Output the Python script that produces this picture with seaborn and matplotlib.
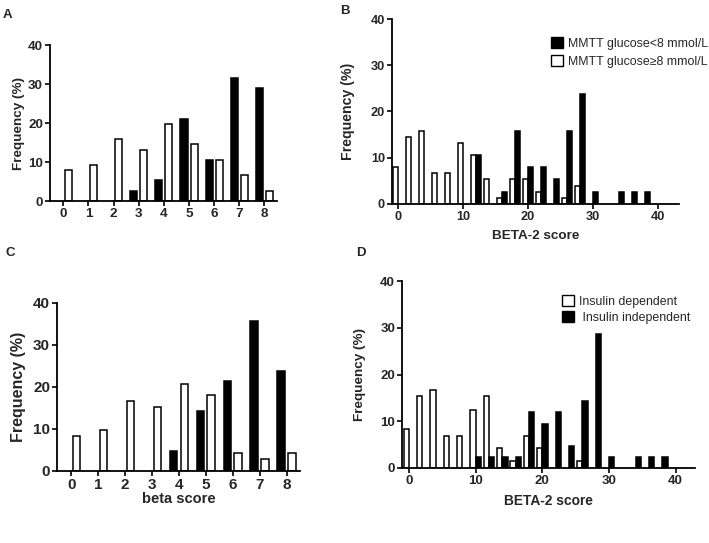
import matplotlib
matplotlib.use("Agg")
import matplotlib.pyplot as plt
from matplotlib.patches import Patch
import seaborn as sns
import pandas as pd

# ---------------- data ----------------
beta_scores = [0, 1, 2, 3, 4, 5, 6, 7, 8]
A_black = [0, 0, 0, 2.6, 5.3, 21.1, 10.5, 31.6, 28.9]
A_white = [7.9, 9.2, 15.8, 13.2, 19.7, 14.5, 10.5, 6.6, 2.6]
C_black = [0, 0, 0, 0, 4.8, 14.3, 21.4, 35.7, 23.8]
C_white = [8.3, 9.7, 16.7, 15.3, 20.8, 18.1, 4.2, 2.8, 4.2]

beta2_scores = [0, 2, 4, 6, 8, 10, 12, 14, 16, 18, 20, 22, 24, 26, 28, 30, 32, 34, 36, 38]
B_black = [0, 0, 0, 0, 0, 0, 10.5, 0, 2.6, 15.8, 7.9, 7.9, 5.3, 15.8, 23.7, 2.6, 0, 2.6, 2.6, 2.6]
B_white = [7.9, 14.5, 15.8, 6.6, 6.6, 13.2, 10.5, 5.3, 1.3, 5.3, 5.3, 2.6, 0, 1.3, 3.9, 0, 0, 0, 0, 0]
D_white = [8.3, 15.3, 16.7, 6.9, 6.9, 12.5, 15.3, 4.2, 1.4, 6.9, 4.2, 0, 0, 1.4, 0, 0, 0, 0, 0, 0]
D_black = [0, 0, 0, 0, 0, 2.4, 2.4, 2.4, 2.4, 11.9, 9.5, 11.9, 4.8, 14.3, 28.6, 2.4, 0, 2.4, 2.4, 2.4]

B_labels = ["MMTT glucose<8 mmol/L", "MMTT glucose\u22658 mmol/L"]
D_labels = ["Insulin dependent", " Insulin independent"]
yticks = [0, 10, 20, 30, 40]
beta2_ticks = [0, 10, 20, 30, 40]


def long_df(scores, black, white, black_name, white_name):
    rows = []
    for s, b, w in zip(scores, black, white):
        if b > 0:
            rows.append({"score": s, "freq": b, "group": black_name})
        if w > 0:
            rows.append({"score": s, "freq": w, "group": white_name})
    return pd.DataFrame(rows)


sns.set_style("ticks")
plt.rcParams["font.family"] = ["Liberation Sans", "DejaVu Sans"]

W, H = 709, 543
fig = plt.figure(figsize=(W / 100, H / 100), dpi=100)


def add_ax(l, r, t, b):
    return fig.add_axes([l / W, 1 - b / H, (r - l) / W, (b - t) / H])


def style(ax, tick_fs, lab_fs, pad):
    for s in ["top", "right"]:
        ax.spines[s].set_visible(False)
    for s in ["left", "bottom"]:
        ax.spines[s].set_linewidth(1.3)
        ax.spines[s].set_color("black")
    ax.tick_params(axis="both", direction="out", length=3.5, width=1.2,
                   color="black", labelsize=tick_fs, pad=1.5)
    for lab in ax.get_xticklabels() + ax.get_yticklabels():
        lab.set_fontweight("bold")
    ax.set_ylim(0, 40)
    ax.set_yticks(yticks)
    ax.set_ylabel("Frequency (%)", fontsize=lab_fs, fontweight="bold", labelpad=pad)


# ---------- Panel A ----------
axA = add_ax(50, 277, 45, 201)
dfA = long_df(beta_scores, A_black, A_white, "low", "high")
sns.barplot(data=dfA, x="score", y="freq", hue="group", hue_order=["low", "high"],
            order=beta_scores, palette={"low": "black", "high": "white"},
            edgecolor="black", linewidth=1.1, gap=0.3, legend=False, ax=axA)
axA.set_xlim(-0.53, 8.5)
axA.set_xlabel("")
axA.set_xticks(range(len(beta_scores)))
axA.set_xticklabels([str(s) for s in beta_scores])
style(axA, 9.7, 9.7, 2)

# ---------- Panel B ----------
axB = add_ax(392, 679, 19, 204)
dfB = long_df(beta2_scores, B_black, B_white, B_labels[0], B_labels[1])
sns.barplot(data=dfB, x="score", y="freq", hue="group", hue_order=[B_labels[1], B_labels[0]],
            native_scale=True, width=0.78,
            palette={B_labels[0]: "black", B_labels[1]: "white"},
            edgecolor="black", linewidth=1.1, legend=False, ax=axB)
axB.set_xlim(-0.92, 43.2)
axB.set_xticks(beta2_ticks)
axB.set_xlabel("BETA-2 score", fontsize=9.7, fontweight="bold", labelpad=5)
style(axB, 9.2, 10.2, 11)
hB = [Patch(facecolor="black", edgecolor="black", linewidth=1),
      Patch(facecolor="white", edgecolor="black", linewidth=1)]
axB.legend(hB, B_labels, loc="upper left", bbox_to_anchor=(551 / W, 1 - 37 / H),
           bbox_transform=fig.transFigure, frameon=False, fontsize=8.9,
           handlelength=0.95, handleheight=0.95, handletextpad=0.45,
           labelspacing=0.45, borderpad=0, borderaxespad=0)

# ---------- Panel C ----------
axC = add_ax(57, 300, 303, 471)
dfC = long_df(beta_scores, C_black, C_white, "low", "high")
sns.barplot(data=dfC, x="score", y="freq", hue="group", hue_order=["low", "high"],
            order=beta_scores, palette={"low": "black", "high": "white"},
            edgecolor="black", linewidth=1.1, gap=0.3, legend=False, ax=axC)
axC.set_xlim(-0.53, 8.5)
axC.set_xticks(range(len(beta_scores)))
axC.set_xticklabels([str(s) for s in beta_scores])
axC.set_xlabel("beta score", fontsize=10.5, fontweight="bold", labelpad=0)
style(axC, 11, 11.5, 5)

# ---------- Panel D ----------
axD = add_ax(402, 695, 281, 468)
dfD = long_df(beta2_scores, D_black, D_white, D_labels[1], D_labels[0])
sns.barplot(data=dfD, x="score", y="freq", hue="group", hue_order=[D_labels[0], D_labels[1]],
            native_scale=True, width=0.78,
            palette={D_labels[0]: "white", D_labels[1]: "black"},
            edgecolor="black", linewidth=1.1, legend=False, ax=axD)
axD.set_xlim(-1.05, 42.9)
axD.set_xticks(beta2_ticks)
axD.set_xlabel("BETA-2 score", fontsize=9.9, fontweight="bold", labelpad=5)
style(axD, 9.5, 9.7, 10)
hD = [Patch(facecolor="white", edgecolor="black", linewidth=1),
      Patch(facecolor="black", edgecolor="black", linewidth=1)]
axD.legend(hD, D_labels, loc="upper left", bbox_to_anchor=(562 / W, 1 - 295 / H),
           bbox_transform=fig.transFigure, frameon=False, fontsize=8.9,
           handlelength=0.95, handleheight=0.95, handletextpad=0.45,
           labelspacing=0.3, borderpad=0, borderaxespad=0)

# ---------- panel letters ----------
for letter, x, y in [("A", 7, 15), ("B", 345, 11), ("C", 10, 253), ("D", 361, 253)]:
    fig.text(x / W, 1 - y / H, letter, fontsize=9.5, fontweight="bold",
             ha="center", va="center")

fig.savefig("out.png", dpi=100)
